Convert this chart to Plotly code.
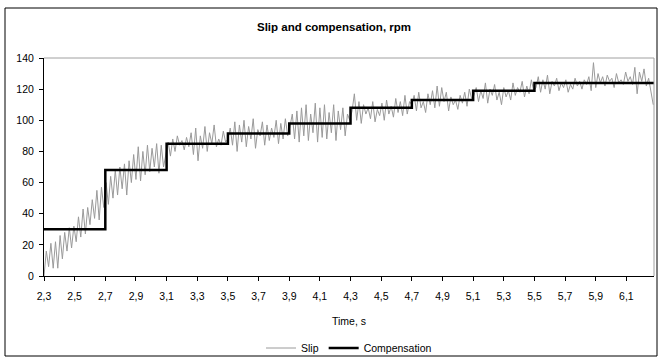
import numpy as np
import plotly.graph_objects as go

# ---- data ----
t_start = 2.30
t_step = 0.015

slip_a = [0, 16, 6, 21, 5, 22, 5, 26, 11, 28, 16, 31, 18, 32, 22, 38, 25, 43, 27, 44, 33, 49, 37, 55, 36, 57, 44]
slip_b = [60, 46, 64, 50, 68, 52, 70, 56, 72, 52, 74, 60, 78, 62, 83, 61, 80, 65, 84, 67, 82, 70, 85, 66, 84, 70, 78]
slip_c = [86, 77, 88, 80, 90, 84, 87, 81, 89, 83, 92, 78, 95, 74, 90, 82, 96, 80, 92, 85, 97, 83, 88, 84, 93, 86]
slip_d = [88, 95, 84, 99, 80, 97, 86, 100, 83, 96, 88, 101, 82, 94, 90, 99, 84, 97, 87, 95, 89, 100, 85, 98, 88, 101, 90]
slip_e = [96, 104, 88, 106, 86, 108, 90, 110, 87, 104, 92, 111, 86, 108, 89, 110, 88, 105, 92, 110, 87, 106, 94, 108, 90, 104, 100]
slip_f = [106, 117, 100, 112, 98, 110, 104, 108, 101, 112, 99, 107, 103, 111, 100, 113, 104, 109, 102, 114, 105, 112, 103, 116, 104, 112]
slip_g = [110, 116, 106, 118, 108, 112, 105, 117, 110, 119, 108, 122, 109, 121, 112, 118, 106, 115, 110, 113, 107, 116, 111, 118, 109, 120, 114]
slip_h = [116, 121, 112, 119, 114, 124, 111, 120, 116, 123, 113, 118, 110, 121, 115, 119, 113, 124, 116, 121, 118, 125, 115, 122, 117, 126, 119]
slip_i = [121, 128, 118, 126, 120, 129, 117, 125, 122, 127,
          119, 124, 121, 126, 118, 123, 120, 127, 122, 125,
          120, 126, 123, 128, 119, 137, 121, 130, 124, 128,
          122, 129, 125, 127, 121, 130, 124, 126, 123, 131,
          125, 128, 123, 134, 117, 131, 125, 133, 122, 127,
          118, 110]

slip = slip_a + slip_b + slip_c + slip_d + slip_e + slip_f + slip_g + slip_h + slip_i
slip_time = [round(t_start + i * t_step, 4) for i in range(len(slip))]

comp_time = [2.3, 2.7, 3.1, 3.5, 3.9, 4.3, 4.7, 5.1, 5.5, 6.28]
comp_value = [30, 68, 85, 91.5, 98, 108, 113, 119, 124, 124]

x_tick_vals = [2.3, 2.5, 2.7, 2.9, 3.1, 3.3, 3.5, 3.7, 3.9, 4.1, 4.3, 4.5, 4.7, 4.9, 5.1, 5.3, 5.5, 5.7, 5.9, 6.1]
x_tick_text = [f"{v:.1f}".replace(".", ",") for v in x_tick_vals]
y_tick_vals = [0, 20, 40, 60, 80, 100, 120, 140]

FONT = "Liberation Sans, Arial, sans-serif"

fig = go.Figure()
fig.add_trace(go.Scatter(x=slip_time, y=slip, mode="lines", name="Slip",
                         line=dict(color="#9a9a9a", width=1)))
fig.add_trace(go.Scatter(x=comp_time, y=comp_value, mode="lines", name="Compensation",
                         line=dict(color="#000000", width=2.5, shape="hv")))

W, H = 659, 358
L, R, T, B = 44, 5, 58, 82
pw, ph = W - L - R, H - T - B

def px_x(p):
    return (p - L) / pw

def px_y(p):
    return (H - B - p) / ph

fig.update_layout(
    width=W, height=H,
    margin=dict(l=L, r=R, t=T, b=B, autoexpand=False),
    paper_bgcolor="white", plot_bgcolor="white",
    font=dict(family=FONT, size=10.5, color="black"),
    showlegend=True,
    legend=dict(orientation="h", x=px_x(349), xanchor="center", y=px_y(348), yanchor="middle",
                font=dict(size=10.5), bgcolor="rgba(0,0,0,0)", itemwidth=30,
                tracegroupgap=0),
    xaxis=dict(range=[2.3, 6.28], tickvals=x_tick_vals, ticktext=x_tick_text,
               showgrid=False, zeroline=False, showline=True, linecolor="black", linewidth=1,
               ticks="outside", ticklen=4, tickcolor="black", tickfont=dict(size=10.5),
               ticklabelstandoff=6),
    yaxis=dict(range=[0, 140], tickvals=y_tick_vals, showgrid=False, zeroline=False,
               showline=True, linecolor="black", linewidth=1,
               ticks="outside", ticklen=4, tickcolor="black", tickfont=dict(size=10.5),
               ticklabelstandoff=3),
    shapes=[
        # outer chart border
        dict(type="rect", xref="paper", yref="paper",
             x0=px_x(5), x1=px_x(657), y0=px_y(356), y1=px_y(8),
             line=dict(color="black", width=1), fillcolor="rgba(0,0,0,0)", layer="below"),
        # gray top and right plot-area border
        dict(type="line", xref="paper", yref="paper", x0=0, x1=1, y0=1, y1=1,
             line=dict(color="#a0a0a0", width=1)),
        dict(type="line", xref="paper", yref="paper", x0=1, x1=1, y0=0, y1=1,
             line=dict(color="#a0a0a0", width=1)),
    ],
    annotations=[
        dict(text="<b>Slip and compensation, rpm</b>", xref="paper", yref="paper",
             x=px_x(334), y=px_y(27), xanchor="center", yanchor="middle",
             showarrow=False, font=dict(size=11.5)),
        dict(text="Time, s", xref="paper", yref="paper",
             x=px_x(349), y=px_y(321), xanchor="center", yanchor="middle",
             showarrow=False, font=dict(size=10.5)),
    ],
)

fig.write_html("out.html")
